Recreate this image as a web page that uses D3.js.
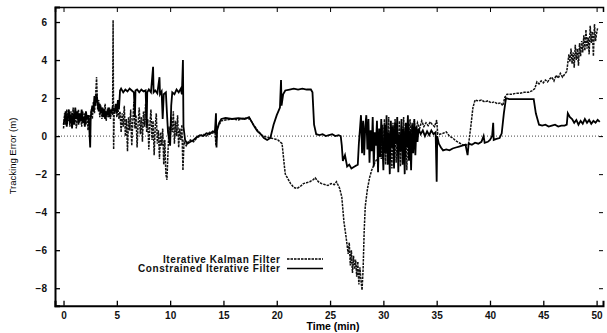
<!DOCTYPE html>
<html>
<head>
<meta charset="utf-8">
<script src="https://cdn.jsdelivr.net/npm/d3@7"></script>
<style>
  body { margin: 0; background: #fff; }
  svg { font-family: "Liberation Sans", Arial, sans-serif; }
</style>
</head>
<body>
<svg id="chart" width="607" height="333"></svg>
<script>
// tick values
const xTicks = [0, 5, 10, 15, 20, 25, 30, 35, 40, 45, 50];
const yTicks = [-8, -6, -4, -2, 0, 2, 4, 6];

// Iterative Kalman Filter  [time (min), error (m)]
const kalman = [
  [0,0.4],[0.1,1.2],[0.2,0.6],[0.3,1.4],[0.4,0.8],[0.5,1.1],[0.6,0.5],[0.7,1.3],[0.8,0.7],[0.9,1.5],
  [1.0,0.9],[1.1,1.2],[1.2,0.4],[1.3,1.0],[1.4,1.4],[1.5,0.7],[1.6,1.1],[1.7,0.5],[1.8,1.3],[1.9,0.8],
  [2.0,1.2],[2.1,0.6],[2.2,1.0],[2.3,0.3],[2.4,1.1],[2.5,0.7],[2.6,1.4],[2.7,0.9],[2.8,1.8],[2.9,1.2],
  [3.0,2.0],[3.1,3.1],[3.2,1.4],[3.3,1.9],[3.4,1.0],[3.5,1.6],[3.6,0.9],[3.7,1.5],[3.8,1.1],[3.9,1.7],
  [4.0,0.8],[4.1,1.4],[4.2,1.0],[4.3,1.5],[4.4,0.9],[4.5,1.3],[4.6,1.1],[4.65,6.1],[4.7,-0.7],[4.75,1.2],
  [4.9,1.6],[5.0,1.0],[5.1,1.5],[5.2,0.9],[5.3,1.3],[5.4,0.2],[5.5,1.2],[5.6,0.5],[5.7,1.6],[5.8,0.0],
  [5.9,0.9],[6.0,-0.8],[6.1,1.0],[6.2,0.3],[6.3,1.4],[6.4,-0.5],[6.5,0.8],[6.6,1.8],[6.7,0.4],[6.8,1.1],
  [6.9,-0.6],[7.0,0.7],[7.1,1.5],[7.2,0.1],[7.3,1.0],[7.4,-0.3],[7.5,1.3],[7.6,0.5],[7.7,1.7],[7.8,0.2],
  [7.9,0.9],[8.0,-0.7],[8.1,0.6],[8.2,1.4],[8.3,-0.2],[8.4,0.8],[8.5,-1.0],[8.6,0.5],[8.7,1.2],[8.8,-0.4],
  [8.9,0.3],[9.0,-1.2],[9.1,0.2],[9.2,-0.5],[9.3,0.4],[9.4,-1.5],[9.5,-0.2],[9.6,-2.0],[9.7,-2.3],[9.8,-0.8],
  [9.9,0.5],[10.0,-0.3],[10.1,1.0],[10.2,0.2],[10.3,1.3],[10.4,-0.4],[10.5,0.8],[10.6,0.0],[10.7,1.1],[10.8,-0.6],
  [10.9,0.4],[11.0,-0.2],[11.1,0.6],[11.2,-1.8],[11.3,-0.3],[11.5,-0.5],[11.7,-0.3],[11.9,-0.2],[12.2,-0.3],[12.5,-0.1],
  [12.8,0.0],[13.1,0.1],[13.4,0.0],[13.7,0.2],[14.0,0.15],[14.2,0.3],[14.3,-0.5],[14.4,0.4],[14.6,0.6],[14.8,0.8],
  [15.2,0.85],[15.8,0.9],[16.4,0.85],[17.0,0.95],[17.5,0.9],[17.8,0.6],[18.2,0.3],[18.6,0.05],[19.0,-0.05],[19.4,-0.1],
  [19.8,-0.15],[20.1,-0.2],[20.5,-0.4],[20.7,-1.5],[20.8,-2.0],[21.0,-2.2],[21.3,-2.5],[21.6,-2.7],[21.9,-2.75],[22.2,-2.65],
  [22.5,-2.5],[22.8,-2.45],[23.1,-2.4],[23.4,-2.3],[23.6,-2.2],[23.9,-2.4],[24.2,-2.5],[24.5,-2.55],[24.8,-2.6],[25.1,-2.5],
  [25.4,-2.55],[25.6,-2.4],[25.9,-2.75],[26.1,-3.2],[26.3,-4.5],[26.5,-5.3],[26.7,-6.2],[26.8,-5.6],[26.9,-6.8],[27.0,-6.0],
  [27.1,-7.2],[27.2,-6.3],[27.3,-7.0],[27.4,-6.5],[27.5,-7.4],[27.6,-6.6],[27.7,-7.8],[27.8,-6.9],[27.9,-7.6],[28.0,-8.1],
  [28.1,-7.0],[28.2,-5.0],[28.3,-3.7],[28.5,-2.8],[28.7,-2.2],[28.9,-1.8],[29.2,-1.4],[29.5,-1.1],[29.6,-0.9],[29.7,0.3],
  [29.8,-1.2],[29.9,0.6],[30.0,-0.8],[30.1,0.9],[30.2,-1.5],[30.3,0.2],[30.4,-0.6],[30.5,1.0],[30.6,-1.3],[30.7,0.4],
  [30.8,-1.7],[30.9,0.7],[31.0,-0.5],[31.1,0.9],[31.2,-1.4],[31.3,0.1],[31.4,-0.9],[31.5,0.8],[31.6,-1.6],[31.7,0.5],
  [31.8,-0.7],[31.9,1.0],[32.0,-1.1],[32.1,0.3],[32.2,-1.8],[32.3,0.6],[32.4,-0.4],[32.5,0.9],[32.6,-1.0],[32.7,0.7],
  [32.8,-0.6],[32.9,0.8],[33.0,0.1],[33.2,0.7],[33.4,0.4],[33.6,0.8],[33.8,0.5],[34.0,0.7],[34.2,0.55],[34.4,0.75],
  [34.6,0.6],[34.8,0.5],[35.0,0.85],[35.1,0.1],[35.3,0.1],[35.6,0.15],[35.9,0.22],[36.2,0.0],[36.5,-0.1],[36.8,-0.25],
  [37.1,-0.35],[37.4,-0.45],[37.7,-0.5],[38.0,-0.4],[38.2,0.5],[38.4,1.5],[38.6,1.9],[38.9,1.85],[39.2,1.9],[39.5,1.8],
  [39.8,1.85],[40.1,1.75],[40.4,1.8],[40.7,1.7],[41.0,1.75],[41.2,1.6],[41.4,2.05],[41.6,2.2],[42.0,2.2],[42.4,2.25],
  [42.8,2.25],[43.2,2.3],[43.6,2.3],[44.0,2.4],[44.2,2.5],[44.4,2.85],[44.6,2.75],[44.8,2.9],[45.0,2.8],[45.2,2.95],
  [45.4,2.85],[45.6,3.0],[45.8,3.1],[46.0,2.9],[46.2,3.2],[46.4,3.05],[46.6,3.3],[46.8,3.1],[47.0,3.25],[47.2,3.4],
  [47.4,4.3],[47.5,3.9],[47.6,4.6],[47.7,3.8],[47.8,4.4],[47.9,3.6],[48.0,4.8],[48.1,4.0],[48.2,4.6],[48.3,3.7],
  [48.4,4.9],[48.5,4.2],[48.6,5.0],[48.7,4.4],[48.8,5.3],[48.9,4.5],[49.0,5.6],[49.1,4.6],[49.2,5.2],[49.3,4.3],
  [49.4,5.8],[49.5,4.9],[49.6,5.5],[49.7,4.2],[49.8,5.9],[49.9,5.0],[50.0,5.4],[50.1,5.7]
];

// Constrained Iterative Filter  [time (min), error (m)]
const constrained = [
  [0,0.6],[0.1,0.9],[0.2,1.3],[0.3,0.5],[0.4,1.0],[0.5,1.4],[0.6,0.7],[0.7,1.1],[0.8,0.4],[0.9,1.2],
  [1.0,0.6],[1.1,1.5],[1.2,0.9],[1.3,1.3],[1.4,0.6],[1.5,1.2],[1.6,0.8],[1.7,1.4],[1.8,0.7],[1.9,1.0],
  [2.0,0.5],[2.1,1.3],[2.2,0.9],[2.3,1.1],[2.4,0.6],[2.5,-0.6],[2.55,1.0],[2.6,1.2],[2.7,1.6],[2.8,1.3],
  [2.9,2.1],[3.0,1.6],[3.1,2.2],[3.2,1.8],[3.3,1.3],[3.4,1.7],[3.5,1.2],[3.6,1.5],[3.7,1.0],[3.8,1.4],
  [3.9,0.9],[4.0,1.3],[4.1,1.1],[4.2,1.5],[4.3,1.0],[4.4,1.4],[4.5,1.2],[4.6,1.5],[4.8,1.3],[4.9,1.7],
  [5.0,1.2],[5.1,1.9],[5.2,1.4],[5.3,2.4],[5.4,2.5],[5.6,2.3],[5.8,2.45],[6.0,2.35],[6.2,2.5],[6.4,2.4],
  [6.6,2.3],[6.7,1.0],[6.75,2.4],[6.9,2.45],[7.1,2.3],[7.3,2.45],[7.5,2.35],[7.7,2.4],[7.8,0.5],[7.85,2.3],
  [8.0,2.45],[8.2,2.3],[8.4,3.65],[8.45,2.3],[8.6,2.4],[8.8,2.25],[9.0,3.1],[9.05,2.2],[9.2,2.35],[9.3,0.9],
  [9.4,2.2],[9.6,2.3],[9.7,1.2],[9.8,0.2],[10.0,-0.5],[10.1,1.6],[10.2,2.3],[10.4,2.2],[10.6,2.45],[10.8,2.3],
  [11.0,2.5],[11.1,2.2],[11.2,4.0],[11.25,0.5],[11.4,-0.2],[11.6,-0.4],[11.9,-0.3],[12.2,-0.2],[12.5,-0.05],[12.8,0.05],
  [13.1,0.0],[13.4,0.15],[13.7,0.1],[14.0,0.25],[14.2,0.2],[14.3,1.2],[14.35,-0.6],[14.4,0.3],[14.6,0.7],[14.8,0.9],
  [15.2,0.95],[15.8,0.9],[16.4,0.95],[17.0,0.9],[17.4,1.0],[17.6,0.8],[17.9,0.5],[18.2,0.25],[18.5,0.1],[18.8,-0.1],
  [19.1,-0.2],[19.4,-0.1],[19.7,0.6],[20.0,1.1],[20.3,1.5],[20.4,2.95],[20.45,1.6],[20.6,2.2],[20.8,2.4],[21.2,2.45],
  [21.6,2.5],[22.0,2.45],[22.4,2.5],[22.8,2.45],[23.2,2.45],[23.35,2.3],[23.5,0.6],[23.7,0.1],[24.0,0.05],[24.3,0.1],
  [24.6,0.0],[24.9,0.05],[25.2,0.1],[25.5,0.0],[25.8,0.05],[26.0,0.0],[26.1,-0.5],[26.2,-1.3],[26.4,-1.0],[26.6,-1.6],
  [26.8,-1.5],[27.0,-1.7],[27.3,-1.6],[27.6,-1.5],[27.7,-0.4],[27.9,1.1],[28.0,-0.9],[28.1,0.8],[28.2,-1.0],[28.3,0.5],
  [28.4,1.1],[28.5,-0.7],[28.6,0.9],[28.7,-1.4],[28.8,0.3],[28.9,-0.8],[29.0,1.0],[29.1,-1.6],[29.2,0.2],[29.3,-0.5],
  [29.4,0.8],[29.5,-1.9],[29.6,0.4],[29.7,-1.1],[29.8,0.9],[29.9,-0.3],[30.0,-1.8],[30.1,0.6],[30.2,-0.9],[30.3,1.1],
  [30.4,-1.5],[30.5,0.2],[30.6,-2.0],[30.7,0.8],[30.8,-0.6],[30.9,0.5],[31.0,-1.7],[31.1,0.7],[31.2,-0.4],[31.3,1.0],
  [31.4,-1.9],[31.5,0.1],[31.6,-0.8],[31.7,0.9],[31.8,-1.5],[31.9,0.4],[32.0,-2.0],[32.1,0.7],[32.2,-0.6],[32.3,1.1],
  [32.4,-1.3],[32.5,0.3],[32.6,-1.8],[32.7,0.6],[32.8,-0.9],[32.9,0.9],[33.0,-1.0],[33.1,0.5],[33.2,-0.3],[33.3,0.4],
  [33.5,0.1],[33.7,0.3],[33.9,0.0],[34.1,0.25],[34.3,0.05],[34.5,0.3],[34.7,0.1],[34.9,0.2],[35.0,-2.4],[35.05,0.0],
  [35.2,-0.4],[35.4,-0.6],[35.6,-0.75],[35.9,-0.7],[36.2,-0.75],[36.5,-0.65],[36.8,-0.6],[37.1,-0.55],[37.4,-0.5],[37.7,-0.45],
  [37.9,-1.0],[38.0,-0.4],[38.3,-0.45],[38.6,-0.35],[38.9,-0.4],[39.2,-0.3],[39.4,0.0],[39.5,-0.35],[39.8,-0.3],[40.0,-0.2],
  [40.2,0.0],[40.3,0.7],[40.35,-0.2],[40.6,-0.15],[40.9,-0.1],[41.1,0.15],[41.3,1.2],[41.5,2.0],[41.8,1.95],[42.2,1.95],
  [42.6,1.95],[43.0,1.95],[43.4,1.95],[43.8,1.95],[44.1,1.95],[44.3,1.2],[44.6,0.6],[44.9,0.55],[45.2,0.6],[45.5,0.5],
  [45.8,0.55],[46.1,0.6],[46.4,0.5],[46.7,0.55],[47.0,0.55],[47.2,0.6],[47.3,1.2],[47.5,1.0],[47.7,0.9],[47.9,0.7],
  [48.1,0.85],[48.3,0.6],[48.5,0.8],[48.7,0.65],[48.9,0.9],[49.1,0.7],[49.3,0.85],[49.5,0.65],[49.7,0.8],[49.9,0.7],
  [50.1,0.85],[50.3,0.75]
];

const svg = d3.select('#chart');

const xScale = d3.scaleLinear().domain([-0.8, 50.6]).range([55, 603]);
const yScale = d3.scaleLinear().domain([-8.92, 6.79]).range([305.7, 7]);

// zero reference line
svg.append('line')
    .attr('x1', 55).attr('x2', 603)
    .attr('y1', yScale(0)).attr('y2', yScale(0))
    .attr('stroke', '#444')
    .attr('stroke-width', 1)
    .attr('stroke-dasharray', '1,2');

const line = d3.line()
    .x(d => xScale(d[0]))
    .y(d => yScale(d[1]));

svg.append('path')
    .datum(kalman)
    .attr('d', line)
    .attr('fill', 'none')
    .attr('stroke', '#111')
    .attr('stroke-width', 1.5)
    .attr('stroke-dasharray', '2.5,1');

svg.append('path')
    .datum(constrained)
    .attr('d', line)
    .attr('fill', 'none')
    .attr('stroke', '#000')
    .attr('stroke-width', 1.8);

// axes: ticks point inward, like the original plot
const xAxis = d3.axisBottom(xScale).tickValues(xTicks).tickSize(-5).tickPadding(6);
const yAxis = d3.axisLeft(yScale).tickValues(yTicks).tickSize(-5).tickPadding(8);

const gx = svg.append('g')
    .attr('transform', 'translate(0,305.7)')
    .call(xAxis);
const gy = svg.append('g')
    .attr('transform', 'translate(55,0)')
    .call(yAxis);

svg.append('g')
    .attr('transform', 'translate(0,7)')
    .call(d3.axisTop(xScale).tickValues(xTicks).tickSize(-5).tickFormat(''))
    .select('.domain').attr('stroke-width', 1.5);
svg.append('g')
    .attr('transform', 'translate(603,0)')
    .call(d3.axisRight(yScale).tickValues(yTicks).tickSize(-4).tickFormat(''))
    .select('.domain').remove();

[gx, gy].forEach(g => {
  g.select('.domain').attr('stroke-width', 2);
  g.selectAll('.tick line').attr('stroke-width', 1.3);
  g.selectAll('text')
      .attr('font-size', 10)
      .attr('font-weight', 'bold')
      .attr('fill', '#111');
});

// axis titles
svg.append('text')
    .attr('x', 333).attr('y', 329.5)
    .attr('text-anchor', 'middle')
    .attr('font-size', 10.5)
    .attr('font-weight', 'bold')
    .text('Time  (min)');

svg.append('text')
    .attr('transform', 'translate(16,156) rotate(-90)')
    .attr('text-anchor', 'middle')
    .attr('font-size', 9.5)
    .text('Tracking Error  (m)');

// legend
const legend = [
  {label: 'Iterative Kalman Filter', dash: '2.5,1', y: 259, width: 117},
  {label: 'Constrained Iterative Filter', dash: null, y: 268.5, width: 142}
];
legend.forEach(d => {
  svg.append('text')
      .attr('x', 280).attr('y', d.y + 3.5)
      .attr('text-anchor', 'end')
      .attr('font-size', 10)
      .attr('font-weight', 'bold')
      .attr('fill', '#111')
      .attr('textLength', d.width)
      .attr('lengthAdjust', 'spacing')
      .text(d.label);
  svg.append('line')
      .attr('x1', 287).attr('x2', 323)
      .attr('y1', d.y).attr('y2', d.y)
      .attr('stroke', '#000')
      .attr('stroke-width', 1.3)
      .attr('stroke-dasharray', d.dash);
});
</script>
</body>
</html>
